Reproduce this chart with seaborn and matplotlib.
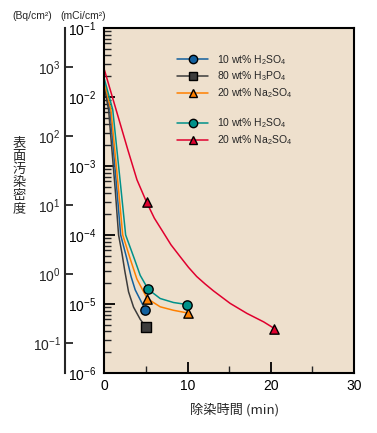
import numpy as np
import pandas as pd
import matplotlib
matplotlib.use('Agg')
import matplotlib.pyplot as plt
from matplotlib.lines import Line2D
from matplotlib.ticker import LogLocator, NullFormatter, MultipleLocator, FixedLocator, NullLocator
import seaborn as sns

# 曲線の読み取り値 (mCi/cm2)
x_blue = [0, 0.66, 1.5, 1.95, 2.7, 3.2, 3.7, 4.9]
y_blue = [1.5e-2, 6.5e-3, 4.5e-4, 1.0e-4, 4.5e-5, 2.5e-5, 1.6e-5, 8.3e-6]

x_gray = [0, 0.5, 1.3, 1.7, 2.1, 2.45, 2.9, 3.5, 4.3, 5.0]
y_gray = [1.35e-2, 6.5e-3, 4.5e-4, 1.0e-4, 5.5e-5, 3.0e-5, 1.5e-5, 9.0e-6, 6.0e-6, 4.6e-6]

x_orange = [0, 0.78, 1.7, 2.2, 3.1, 3.9, 5.14, 6.7, 8.3, 10.0]
y_orange = [1.6e-2, 6.5e-3, 4.5e-4, 1.0e-4, 4.5e-5, 2.3e-5, 1.2e-5, 9.1e-6, 8.1e-6, 7.4e-6]

x_teal = [0, 1.0, 2.0, 2.55, 3.6, 4.3, 5.26, 6.7, 8.3, 9.95]
y_teal = [1.8e-2, 6.5e-3, 4.5e-4, 1.0e-4, 4.5e-5, 2.6e-5, 1.63e-5, 1.2e-5, 1.05e-5, 9.8e-6]

x_red = [0, 2.82, 3.91, 5.08, 6.0, 7.05, 8.0, 9.07, 10.1, 11.09, 12.1, 13.1, 15.11, 17.13, 19.14, 20.44]
y_red = [2.46e-2, 1.7e-3, 6.3e-4, 2.96e-4, 1.75e-4, 1.1e-4, 7.2e-5, 4.9e-5, 3.4e-5, 2.5e-5, 1.95e-5, 1.55e-5, 1.02e-5, 7.3e-6, 5.5e-6, 4.4e-6]

# 測定点 (マーカー)
mx_blue, my_blue = [4.9], [8.3e-6]
mx_gray, my_gray = [5.0], [4.6e-6]
mx_orange, my_orange = [5.14, 10.0], [1.2e-5, 7.4e-6]
mx_teal, my_teal = [5.26, 9.95], [1.63e-5, 9.8e-6]
mx_red, my_red = [5.08, 20.44], [2.96e-4, 4.4e-6]

labels = ['10 wt% H$_2$SO$_4$', '80 wt% H$_3$PO$_4$', '20 wt% Na$_2$SO$_4$',
          '10 wt% H$_2$SO$_4$', '20 wt% Na$_2$SO$_4$']
bq_ticks = [1e-1, 1e0, 1e1, 1e2, 1e3]
colors = ['#12609E', '#3C3C3C', '#FF8000', '#00918A', '#E0002E']
markers = ['o', 's', '^', 'o', '^']

sns.set_style('ticks')
plt.rcParams['font.family'] = ['Liberation Sans', 'DejaVu Sans', 'Noto Sans CJK JP']
plt.rcParams['mathtext.default'] = 'regular'

curves = [(x_blue, y_blue), (x_gray, y_gray), (x_orange, y_orange), (x_teal, y_teal), (x_red, y_red)]
points = [(mx_blue, my_blue), (mx_gray, my_gray), (mx_orange, my_orange), (mx_teal, my_teal), (mx_red, my_red)]

fig = plt.figure(figsize=(3.77, 4.33), dpi=100)
ax = fig.add_axes([0.277, 0.1386, 0.662, 0.797])
ax.set_facecolor('#EEE0CD')

for i, (cx, cy) in enumerate(curves):
    df = pd.DataFrame({'x': cx, 'y': cy})
    sns.lineplot(data=df, x='x', y='y', ax=ax, color=colors[i], lw=1.1,
                 sort=False, estimator=None, zorder=2)
for i, (px, py) in enumerate(points):
    df = pd.DataFrame({'x': px, 'y': py})
    sns.scatterplot(data=df, x='x', y='y', ax=ax, color=colors[i], marker=markers[i],
                    s=45, edgecolor='black', linewidth=1.0, zorder=3)

ax.set_yscale('log')
ax.set_xlim(0, 30)
ax.set_ylim(1e-6, 1e-1)
ax.set_xlabel('')
ax.set_ylabel('')
ax.xaxis.set_major_locator(MultipleLocator(10))
ax.xaxis.set_minor_locator(MultipleLocator(5))
ax.yaxis.set_major_locator(LogLocator(base=10, numticks=10))
ax.yaxis.set_minor_locator(LogLocator(base=10, subs=np.arange(2, 10), numticks=10))
ax.yaxis.set_minor_formatter(NullFormatter())
ax.tick_params(axis='both', which='major', direction='in', length=8, width=1.3,
               labelsize=10, colors='black')
ax.tick_params(axis='both', which='minor', direction='in', length=5, width=1.0)
ax.tick_params(axis='y', which='both', right=False, pad=6)
ax.tick_params(axis='x', which='both', top=False, pad=4)
for s in ax.spines.values():
    s.set_linewidth(1.5)
    s.set_color('black')

# 左側の Bq/cm2 軸
sec = ax.secondary_yaxis(-0.158, functions=(lambda v: v * 3.7e4, lambda v: v / 3.7e4))
sec.yaxis.set_major_locator(FixedLocator(bq_ticks))
sec.yaxis.set_minor_locator(NullLocator())
sec.tick_params(axis='y', which='major', direction='in', length=6, width=1.3,
                labelsize=10, pad=3)
sec.spines['left'].set_linewidth(1.5)

handles = []
for i in range(5):
    handles.append(Line2D([], [], color=colors[i], lw=1.1, marker=markers[i],
                          markersize=6, markeredgecolor='black', markeredgewidth=1.0))
blank = Line2D([], [], color='none')
leg = ax.legend(handles[:3] + [blank] + handles[3:], labels[:3] + [''] + labels[3:],
                loc='upper left', bbox_to_anchor=(0.275, 0.94), frameon=False,
                fontsize=7.5, handlelength=3.0, handletextpad=0.8, labelspacing=0.3,
                borderaxespad=0)

fig.text(0.034, 0.963, '(Bq/cm²)', fontsize=7.5, ha='left', va='center')
fig.text(0.159, 0.963, '(mCi/cm²)', fontsize=7.5, ha='left', va='center')
fig.text(0.05, 0.594, '\n'.join('表面汚染密度'), fontsize=9.5, ha='center', va='center',
         linespacing=1.0, family=['Noto Sans CJK JP'])
fig.text(0.622, 0.053, '除染時間 (min)', fontsize=9.5, ha='center', va='center',
         family=['Noto Sans CJK JP', 'DejaVu Sans'])

fig.savefig('out.png', dpi=100, facecolor='white')
